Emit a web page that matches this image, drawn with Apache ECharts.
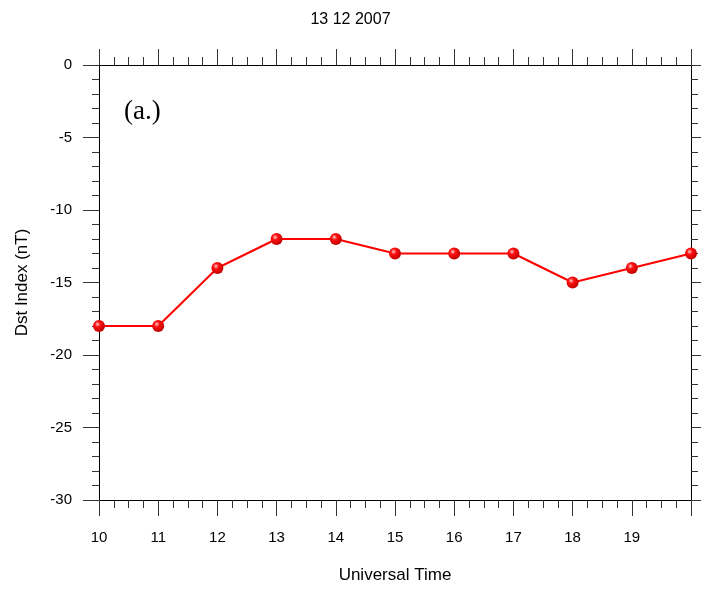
<!DOCTYPE html>
<html><head><meta charset="utf-8">
<script src="https://cdn.jsdelivr.net/npm/echarts@6/dist/echarts.min.js"></script>
<style>html,body{margin:0;padding:0;background:#fff}#c{width:701px;height:590px}</style>
</head><body><div id="c"></div>
<script>
var hours = [10, 11, 12, 13, 14, 15, 16, 17, 18, 19, 20];
var dst = [-18, -18, -14, -12, -12, -13, -13, -13, -15, -14, -13];
var xTickLabels = ['10','11','12','13','14','15','16','17','18','19'];
var yTickLabels = [0, -5, -10, -15, -20, -25, -30];

var chart = echarts.init(document.getElementById('c'), null, {renderer: 'canvas'});
var font = 'Arial, "Liberation Sans", sans-serif';
var tickStyle = {color: '#333', width: 1};
function xAx(pos, showLabel) {
  return {
    type: 'value', position: pos, min: 10, max: 20, interval: 1,
    axisLine: {show: true, onZero: false, lineStyle: {color: '#000', width: 1}},
    axisTick: {show: true, inside: false, length: 16, lineStyle: tickStyle},
    minorTick: {show: true, splitNumber: 4, length: 8, lineStyle: tickStyle},
    splitLine: {show: false},
    axisLabel: {show: showLabel, margin: 30, fontSize: 15, color: '#000', fontFamily: font,
      formatter: function (v) { var s = String(v); return xTickLabels.indexOf(s) >= 0 ? s : ''; }},
    name: showLabel ? 'Universal Time' : '', nameLocation: 'middle', nameGap: 67,
    nameTextStyle: {fontSize: 17, color: '#000', fontFamily: font}
  };
}
function yAx(pos, showLabel) {
  return {
    type: 'value', position: pos, min: -30, max: 0, interval: 5,
    axisLine: {show: true, onZero: false, lineStyle: {color: '#000', width: 1}},
    axisTick: {show: true, inside: false, length: 16, lineStyle: tickStyle},
    minorTick: {show: true, splitNumber: 5, length: 7, lineStyle: tickStyle},
    splitLine: {show: false},
    axisLabel: {show: showLabel, margin: 27, fontSize: 15, color: '#000', fontFamily: font,
      formatter: function (v) { return yTickLabels.indexOf(v) >= 0 ? String(v) : ''; }},
    name: showLabel ? 'Dst Index (nT)' : '', nameLocation: 'middle', nameGap: 68,
    nameTextStyle: {fontSize: 17, color: '#000', fontFamily: font}
  };
}
chart.setOption({
  animation: false,
  backgroundColor: '#fff',
  title: {text: '13 12 2007', left: 'center', top: 7,
    textStyle: {fontSize: 16, fontWeight: 'normal', color: '#000', fontFamily: font}},
  grid: {left: 99, right: 10, top: 65, bottom: 90},
  xAxis: [xAx('bottom', true), xAx('top', false)],
  yAxis: [yAx('left', true), yAx('right', false)],
  graphic: [{type: 'text', left: 124, top: 98,
    style: {text: '(a.)', fontSize: 27, fontFamily: '"Liberation Serif", "Times New Roman", serif', fill: '#000'}}],
  series: [{
    type: 'line',
    data: hours.map(function (h, i) { return [h, dst[i]]; }),
    lineStyle: {color: '#ff0000', width: 2},
    symbol: 'circle', symbolSize: 12,
    itemStyle: {
      color: {type: 'radial', x: 0.38, y: 0.35, r: 0.65,
        colorStops: [{offset: 0, color: '#ffd0d0'}, {offset: 0.35, color: '#ff1010'}, {offset: 1, color: '#c00000'}]},
      borderWidth: 0
    },
    clip: true
  }]
});
</script></body></html>
